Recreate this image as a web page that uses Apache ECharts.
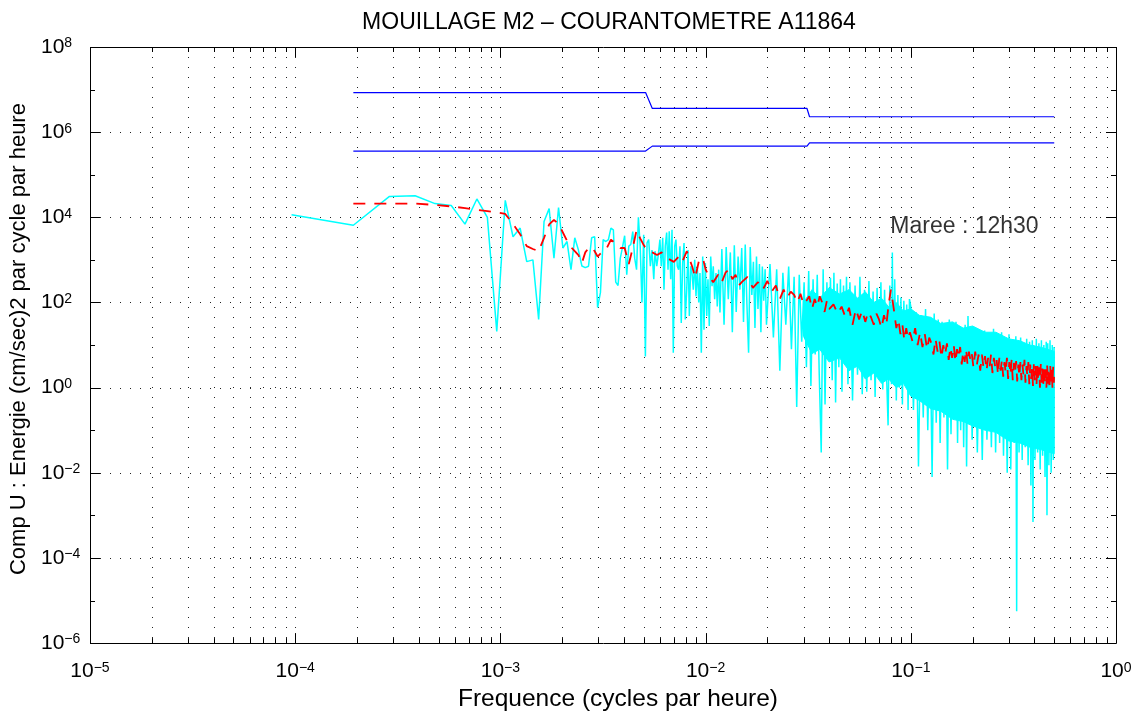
<!DOCTYPE html>
<html><head><meta charset="utf-8">
<script src="https://cdn.jsdelivr.net/npm/echarts@6/dist/echarts.min.js"></script>
<style>html,body{margin:0;padding:0;background:#fff}#c{width:1142px;height:717px}</style>
</head><body><div id="c"></div>
<script>
// ---------- texts ----------
const TITLE = 'MOUILLAGE M2 \u2013 COURANTOMETRE A11864';
const X_NAME = 'Frequence (cycles par heure)';
const Y_NAME = 'Comp U : Energie (cm/sec)2 par cycle par heure';
const NOTE = 'Maree : 12h30';
const NOTE_POS = [0.079, 6e3];

// ---------- axes ----------
const X_DECADES = [1e-5, 1e-4, 1e-3, 1e-2, 1e-1, 1];
const Y_EXPONENTS = [-6, -5, -4, -3, -2, -1, 0, 1, 2, 3, 4, 5, 6, 7, 8];
const X_MINOR_MULT = [2, 3, 4, 5, 6, 7, 8, 9];

// ---------- data ----------
// frequency resolution of the spectrum (cycles per hour)
const DF = 9.6e-5;
// cyan raw spectrum, first harmonics k = 1..54 (f = k*DF)
const cyanLow = [1.15e4, 6.5e3, 3.1e4, 3.2e4, 2.1e4, 1.9e4, 6.9e3, 2.7e4, 1.0e4, 21,
  2.5e4, 3.5e3, 5.6e3, 910, 1.0e3, 40, 8e3, 1.6e4, 1.1e3, 1.7e4,
  1.9e3, 2.7e3, 590, 3.3e3, 1.7e3, 720, 660, 710, 3.3e3, 3.5e3,
  76, 170, 3.0e3, 2.7e3, 3.0e3, 5.6e3, 5.1e3, 300, 250, 1.1e3,
  2.0e3, 3.7e3, 450, 2.1e3, 2.3e3, 4.6e3, 1.1e3, 590, 1.0e4, 2.1e3,
  100, 3.9e3, 5.4, 2.5e3];
const cyanMid = [[5.28e-3,3.0e3],[5.38e-3,710],[5.48e-3,1.7e3],[5.59e-3,350],[5.67e-3,1.6e3],[5.78e-3,710],[5.88e-3,1.3e3],[5.99e-3,3.0e3],[6.08e-3,710],[6.18e-3,3.3e3],[6.27e-3,200],[6.36e-3,2.1e3],[6.46e-3,4.4e3],[6.56e-3,590],[6.65e-3,4.7e3],[6.76e-3,350],[6.86e-3,5.1e3],[6.96e-3,6.6],[7.07e-3,2.1e3],[7.17e-3,3.0e3],[7.28e-3,710],[7.39e-3,590],[7.50e-3,2.1e3],[7.61e-3,33],[7.73e-3,850],[7.85e-3,2.5e3],[7.96e-3,40],[8.09e-3,200],[8.21e-3,1.7e3],[8.33e-3,48],[8.46e-3,710],[8.59e-3,490],[8.71e-3,200],[8.85e-3,1.0e3],[8.98e-3,140],[9.11e-3,710],[9.26e-3,100],[9.39e-3,490],[9.53e-3,6.6],[9.68e-3,1.2e3],[9.82e-3,23],[9.97e-3,850],[1.013e-2,48],[1.027e-2,350],[1.042e-2,28],[1.059e-2,1.2e3],[1.075e-2,240],[1.090e-2,710],[1.107e-2,120],[1.124e-2,490],[1.140e-2,81],[1.158e-2,590],[1.175e-2,58]];
const cyanDense = [[0.0120,1.8e3],[0.0123,30],[0.0126,2.0e3],[0.0129,120],[0.0132,1.5e3],[0.0135,20],[0.0138,2.2e3],[0.0141,60],[0.0144,1.2e3],[0.0147,200],[0.0150,1.9e3],[0.0153,35],[0.0156,2.3e3],[0.0159,90],[0.0162,6.6],[0.0165,2.0e3],[0.0168,150],[0.0171,900],[0.0174,25],[0.0177,1.2e3],[0.0180,70],[0.0183,800],[0.0186,20],[0.0189,700],[0.0192,110],[0.0195,600],[0.0198,30],
[0.0206,800],[0.0214,15],[0.0222,600],[0.0230,2.5],[0.0238,500],[0.0246,30],[0.0254,700],[0.0262,8],[0.0270,400],[0.0278,0.35],[0.0286,450],[0.0294,12],[0.0302,300],[0.0310,3],[0.0318,550],[0.0326,1.1],[0.0334,350],[0.0342,6],[0.0350,450],[0.0358,2],[0.0366,0.03],[0.0374,600],[0.0382,0.4],[0.0390,300],[0.0398,5],[0.0406,380],[0.0414,1.5],[0.0422,500],[0.0430,0.45],[0.0438,280],[0.0446,3],[0.0454,350],[0.0462,0.8],[0.0470,250],[0.0478,4],[0.0486,400],[0.0494,1.2],
[0.0505,300],[0.0520,0.5],[0.0535,250],[0.0550,2],[0.0565,400],[0.0580,0.7],[0.0595,200],[0.0610,0.8],[0.0625,320],[0.0640,1.5],[0.0655,180],[0.0670,0.6],[0.0685,220],[0.0700,2.5],[0.0715,300],[0.0730,0.9],[0.0745,200],[0.0760,3],[0.0775,0.13],[0.0790,250],[0.0805,1.2],[0.0813,1.5e3],[0.0820,2],[0.0835,350],[0.0850,0.5],[0.0865,150],[0.0880,1],[0.0895,130],[0.0910,0.4],[0.0925,110],[0.0940,1.5],[0.0955,90],[0.0970,0.3],[0.0985,120],
[0.100,80],[0.103,0.3],[0.106,60],[0.109,0.014],[0.112,50],[0.115,0.2],[0.118,70],[0.121,0.1],[0.124,45],[0.127,0.008],[0.130,55],[0.133,0.15],[0.136,40],[0.139,0.05],[0.142,35],[0.145,0.2],[0.148,30],[0.151,0.012],[0.154,40],[0.157,0.08],[0.160,25],[0.163,0.3],[0.166,35],[0.169,0.05],[0.172,28],[0.175,0.1],[0.178,22],[0.181,0.04],[0.184,30],[0.187,0.014],[0.190,48],[0.193,0.15],[0.196,20],[0.199,0.06],
[0.205,25],[0.211,0.03],[0.217,20],[0.223,0.02],[0.229,22],[0.235,0.06],[0.241,18],[0.247,0.04],[0.253,24],[0.259,0.03],[0.265,15],[0.271,0.05],[0.277,20],[0.283,0.025],[0.289,14],[0.295,0.01],[0.301,18],[0.307,0.012],[0.313,13],[0.319,0.05],[0.325,16],[0.328,5.6e-6],[0.331,12],[0.337,0.03],[0.343,15],[0.349,0.02],[0.355,11],[0.361,0.04],[0.367,14],[0.373,0.015],[0.379,12],[0.385,0.005],[0.391,13],[0.394,7e-4],[0.397,10],[0.403,0.02],[0.409,14],[0.415,0.03],[0.421,11],[0.427,0.012],[0.433,13],[0.439,0.025],[0.445,10],[0.451,0.008],[0.457,12],[0.461,0.001],[0.465,11],[0.471,0.015],[0.477,13],[0.483,0.01],[0.489,10],[0.495,0.02],[0.499,9],[0.5,1.5]];
// solid core of the cyan band (upper / lower edge)
const coreF   = [0.030, 0.033, 0.036, 0.040, 0.045, 0.050, 0.055, 0.060, 0.066, 0.072, 0.078, 0.085, 0.092, 0.100, 0.110, 0.125, 0.140, 0.160, 0.180, 0.200, 0.230, 0.260, 0.300, 0.340, 0.380, 0.430, 0.5];
const coreTop = [100, 200, 126, 224, 158, 200, 126, 178, 100, 126, 79, 100, 63, 71, 50, 45, 32, 35, 25, 28, 20, 20, 14, 12.6, 10, 8.9, 7.1];
const coreBot = [16, 6.3, 7.9, 4, 5, 2.5, 3.2, 1.6, 2.2, 1.26, 1.6, 1.0, 1.26, 0.63, 0.5, 0.32, 0.28, 0.18, 0.16, 0.126, 0.1, 0.089, 0.056, 0.05, 0.04, 0.035, 0.028];
// red smoothed spectrum [f, value]
const redLine = [[1.92e-4,2.1e4],[2.88e-4,2.1e4],[3.84e-4,2.1e4],[4.8e-4,1.95e4],[5.76e-4,1.8e4],[6.72e-4,1.65e4],[7.68e-4,1.5e4],[8.64e-4,1.4e4],[9.6e-4,1.3e4],[1.056e-3,1.2e4],[1.152e-3,7e3],[1.248e-3,4e3],[1.344e-3,2.1e3],[1.44e-3,1.8e3],[1.536e-3,1.6e3],[1.632e-3,3.3e3],[1.728e-3,6.8e3],[1.824e-3,8.7e3],[1.92e-3,7e3],[2.016e-3,4.4e3],[2.112e-3,2.8e3],[2.208e-3,2e3],[2.304e-3,1.6e3],[2.4e-3,1.3e3],[2.496e-3,850],[2.592e-3,1.5e3],[2.688e-3,1.9e3],[2.784e-3,2e3],[2.88e-3,1.6e3],[2.976e-3,1.2e3],[3.072e-3,1.4e3],[3.264e-3,1.7e3],[3.456e-3,3e3],[3.648e-3,2.4e3],[3.84e-3,1.9e3],[4.032e-3,1.9e3],[4.224e-3,800],[4.416e-3,1.9e3],[4.608e-3,5e3],[4.8e-3,3.2e3],[5.0e-3,2.2e3],[5.2e-3,1.7e3],[5.5e-3,1.5e3],[5.8e-3,1.3e3],[6.1e-3,1.5e3],[6.5e-3,1.1e3],[7.0e-3,900],[7.4e-3,1.2e3],[7.7e-3,900],[8.1e-3,1.6e3],[8.6e-3,700],[8.9e-3,380],[9.3e-3,1e3],[9.7e-3,1.1e3],[1.0e-2,600],[1.04e-2,400],[1.09e-2,300],
[0.0115,450],[0.012,300],[0.0125,500],[0.013,600],[0.0135,350],[0.014,450],[0.0145,250],[0.015,300],[0.016,400],[0.017,220],[0.018,300],[0.019,200],[0.020,320],[0.021,180],[0.022,250],[0.023,120],[0.024,200],[0.025,130],[0.026,180],[0.027,150],[0.028,100],[0.029,160],[0.030,90],[0.031,110],[0.032,140],[0.033,70],[0.034,120],[0.035,80],[0.036,140],[0.037,100],[0.038,60],[0.039,110],[0.040,70],[0.042,90],[0.044,55],[0.046,80],[0.048,45],[0.050,75],[0.052,30],[0.054,70],[0.056,40],[0.058,65],[0.060,35],[0.062,60],[0.064,45],[0.066,30],[0.068,55],[0.070,40],[0.072,25],[0.074,50],[0.076,30],[0.078,90],[0.080,200],[0.0815,110],[0.083,60],[0.085,25],[0.087,40],[0.089,18],[0.091,30],[0.093,13],[0.095,25],[0.097,14],[0.099,20],
[0.102,12],[0.105,25],[0.108,10],[0.111,20],[0.114,9],[0.117,18],[0.120,8],[0.123,15],[0.126,11],[0.129,6],[0.132,14],[0.135,7],[0.138,12],[0.141,5],[0.144,10],[0.147,6],[0.150,11],[0.153,4.5],[0.156,9],[0.159,5],[0.162,10],[0.165,4],[0.168,8],[0.171,5],[0.174,9],[0.177,3.5],[0.180,7],[0.183,4],[0.186,8],[0.189,3.5],[0.192,7],[0.195,4.5],[0.198,6.5],
[0.202,3],[0.206,7],[0.210,3.5],[0.214,6],[0.218,2.5],[0.222,6],[0.226,3],[0.230,5.5],[0.234,2.5],[0.238,5],[0.242,3],[0.246,6],[0.250,2.2],[0.254,5],[0.258,3],[0.262,4.5],[0.266,2],[0.270,5],[0.274,2.5],[0.278,4.5],[0.282,1.8],[0.286,4],[0.290,2.2],[0.294,5],[0.298,1.6],[0.302,4],[0.306,2],[0.310,4.5],[0.314,1.5],[0.318,3.8],[0.322,2.2],[0.326,4.2],[0.330,1.4],[0.334,3.5],[0.338,1.8],[0.342,4],[0.346,1.5],[0.350,3.5],[0.354,2],[0.358,4.5],[0.362,1.3],[0.366,3.2],[0.370,1.8],[0.374,4],[0.378,1.2],[0.382,3.5],[0.386,1.6],[0.390,3],[0.394,1.1],[0.398,3.8],[0.402,1.5],[0.406,3.2],[0.410,1.2],[0.414,3.5],[0.418,1.4],[0.422,3],[0.426,1.0],[0.430,3.6],[0.434,1.3],[0.438,2.8],[0.442,1.1],[0.446,3.2],[0.450,1.4],[0.454,2.7],[0.458,1.0],[0.462,3.3],[0.466,1.2],[0.470,2.9],[0.474,0.9],[0.478,3.4],[0.482,1.2],[0.486,2.8],[0.490,1.0],[0.494,3.1],[0.498,1.3],[0.5,2.5]];
// blue confidence limits [f, value]
const blueUpper = [[1.92e-4,8.5e6],[5.1e-3,8.5e6],[5.5e-3,3.6e6],[0.0312,3.6e6],[0.0321,2.3e6],[0.5,2.3e6]];
const blueLower = [[1.92e-4,3.6e5],[5.1e-3,3.6e5],[5.5e-3,4.7e5],[0.0312,4.7e5],[0.0321,5.6e5],[0.5,5.6e5]];

// ---------- build ----------
const FONT = "'Liberation Sans', Arial, Helvetica, sans-serif";
const cyanAll = cyanLow.map((v, i) => [(i + 1) * DF, v]).concat(cyanMid, cyanDense);
const corePoly = coreF.map((f, i) => [f, coreTop[i]]).concat(coreF.map((f, i) => [f, coreBot[i]]).reverse());

function expLabel(v) {
  const e = Math.round(Math.log10(v));
  return '{b|10}{e|' + (e < 0 ? '\u2212' + (-e) : String(e)) + '}';
}
const richLab = {
  b: { fontSize: 21, fontFamily: FONT, color: '#000' },
  e: { fontSize: 14, fontFamily: FONT, color: '#000', verticalAlign: 'top' }
};

// frame (box, ticks, dotted grid) items
const frameItems = [];
X_DECADES.forEach((d, i) => {
  frameItems.push({ k: 'xmaj', v: d });
  if (i < X_DECADES.length - 1) X_MINOR_MULT.forEach(m => frameItems.push({ k: 'xmin', v: d * m }));
});
Y_EXPONENTS.forEach(e => frameItems.push({ k: (e % 2 === 0 ? 'ymaj' : 'ymin'), v: Math.pow(10, e) }));
frameItems.push({ k: 'box' });

function renderFrame(params, api) {
  const it = frameItems[params.dataIndex];
  const cs = params.coordSys;
  const x0 = cs.x, y0 = cs.y, w = cs.width, h = cs.height;
  const dot = { stroke: '#222', lineWidth: 1, lineDash: [1, 9] };
  const tk = { stroke: '#000', lineWidth: 1 };
  const ch = [];
  if (it.k === 'xmaj' || it.k === 'xmin') {
    const x = Math.round(api.coord([it.v, 1])[0]) + 0.5;
    const L = it.k === 'xmaj' ? 10 : 5;
    if (x > x0 + 2 && x < x0 + w - 2) ch.push({ type: 'line', shape: { x1: x, y1: y0, x2: x, y2: y0 + h }, style: dot });
    ch.push({ type: 'line', shape: { x1: x, y1: y0 + h, x2: x, y2: y0 + h - L }, style: tk });
    ch.push({ type: 'line', shape: { x1: x, y1: y0, x2: x, y2: y0 + L }, style: tk });
  } else if (it.k === 'ymaj' || it.k === 'ymin') {
    const y = Math.round(api.coord([0.01, it.v])[1]) + 0.5;
    const L = it.k === 'ymaj' ? 10 : 5;
    if (it.k === 'ymaj' && y > y0 + 2 && y < y0 + h - 2) ch.push({ type: 'line', shape: { x1: x0, y1: y, x2: x0 + w, y2: y }, style: dot });
    ch.push({ type: 'line', shape: { x1: x0, y1: y, x2: x0 + L, y2: y }, style: tk });
    ch.push({ type: 'line', shape: { x1: x0 + w, y1: y, x2: x0 + w - L, y2: y }, style: tk });
  } else {
    ch.push({ type: 'rect', shape: { x: Math.round(x0) + 0.5, y: Math.round(y0) + 0.5, width: Math.round(w), height: Math.round(h) }, style: { fill: null, stroke: '#000', lineWidth: 1 } });
  }
  return { type: 'group', children: ch };
}

function renderCore(params, api) {
  const pts = corePoly.map(p => api.coord(p));
  return { type: 'polygon', shape: { points: pts }, style: { fill: '#00ffff', stroke: '#00ffff', lineWidth: 1 } };
}

const chart = echarts.init(document.getElementById('c'), null, { renderer: 'canvas' });
chart.setOption({
  animation: false,
  backgroundColor: '#fff',
  title: {
    text: TITLE, left: 604, top: 6, textAlign: 'center',
    textStyle: { fontFamily: FONT, fontSize: 23, fontWeight: 'normal', color: '#000' }
  },
  grid: { left: 90, top: 47, width: 1026, height: 597, containLabel: false },
  xAxis: {
    type: 'log', logBase: 10, min: 1e-5, max: 1, interval: 1,
    name: X_NAME, nameLocation: 'middle', nameGap: 41,
    nameTextStyle: { fontFamily: FONT, fontSize: 24.5, color: '#000', padding: [0, 0, 0, 30] },
    axisLine: { show: false }, axisTick: { show: false }, splitLine: { show: false },
    axisLabel: { formatter: expLabel, rich: richLab, margin: 18 }
  },
  yAxis: {
    type: 'log', logBase: 10, min: 1e-6, max: 1e8, interval: 2,
    name: Y_NAME, nameLocation: 'middle', nameGap: 53, nameRotate: 90,
    nameTextStyle: { fontFamily: FONT, fontSize: 22, color: '#000', padding: [0, 0, 0, 12] },
    axisLine: { show: false }, axisTick: { show: false }, splitLine: { show: false },
    axisLabel: { formatter: expLabel, rich: richLab, margin: 49, align: 'left' }
  },
  series: [
    { type: 'custom', name: 'frame', renderItem: renderFrame, data: frameItems.map(() => [0.01, 1]), clip: false, silent: true, z: 1 },
    { type: 'custom', name: 'core', renderItem: renderCore, data: [[0.1, 1]], clip: true, silent: true, z: 2 },
    { type: 'line', name: 'spectre', data: cyanAll, showSymbol: false, symbol: 'none', lineStyle: { color: '#00ffff', width: 1.5 }, z: 3, silent: true },
    { type: 'line', name: 'lisse', data: redLine, showSymbol: false, symbol: 'none', lineStyle: { color: '#ff0000', width: 1.8, type: [12, 9] }, z: 4, silent: true },
    { type: 'line', name: 'sup', data: blueUpper, showSymbol: false, symbol: 'none', lineStyle: { color: '#0000ff', width: 1.2 }, z: 5, silent: true },
    { type: 'line', name: 'inf', data: blueLower, showSymbol: false, symbol: 'none', lineStyle: { color: '#0000ff', width: 1.2 }, z: 5, silent: true },
    { type: 'scatter', name: 'note', data: [NOTE_POS], symbolSize: 1, itemStyle: { color: 'rgba(0,0,0,0)' }, z: 6, silent: true,
      label: { show: true, position: 'right', distance: 0, formatter: NOTE, fontFamily: FONT, fontSize: 23, color: '#000' } }
  ]
});
</script></body></html>
